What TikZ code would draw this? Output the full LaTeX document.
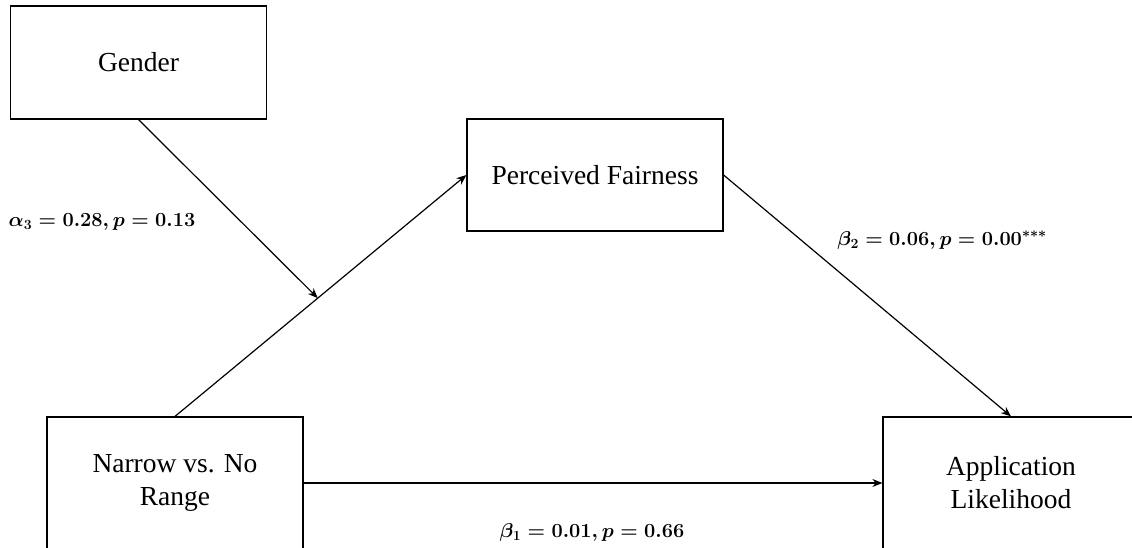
\documentclass[tikz,border=0pt]{standalone}
\usepackage{fix-cm}
\usepackage{fontspec}
\setmainfont{Liberation Serif}
\usetikzlibrary{arrows.meta,calc}
\begin{document}
\begin{tikzpicture}[x=1pt,y=-1pt,
  varbox/.style={draw, line width=1.2pt, minimum width=256pt, align=center,
    font=\fontsize{27.5}{33}\selectfont, inner sep=0pt},
  conn/.style={line width=1.2pt, -{Stealth[length=10pt,width=8pt]}},
  coef/.style={font=\fontsize{20}{24}\selectfont\boldmath, inner sep=0pt}]
\useasboundingbox (0,0) rectangle (1132,548);
\clip (0,0) rectangle (1132,548);
\fill[white] (0,0) rectangle (1132,548);
\node[varbox, minimum height=113pt] (g) at (138.5,62.5) {Gender};
\node[varbox, minimum height=112pt] (pf) at (595,175) {Perceived Fairness};
\node[varbox, minimum height=132pt] (nr) at (175,483) {Narrow vs. No\\Range};
\node[varbox, minimum height=132pt] (al) at (1011,483) {Application\\Likelihood};
\coordinate (ns) at (nr.north);
\coordinate (m) at ($(ns)!0.49!(pf.west)$);
\draw[conn] (ns) -- (pf.west);
\draw[conn] (g.south) -- (m);
\draw[conn] (pf.east) -- (al.north);
\draw[conn] (nr.east) -- (al.west);
\node[coef] (la) at (102,222) {$\alpha_3 = 0.28, p = 0.13$};
\node[coef] (lb2) at (942,240) {$\beta_2 = 0.06, p = 0.00^{***}$};
\node[coef] (lb1) at (592,532) {$\beta_1 = 0.01, p = 0.66$};
\end{tikzpicture}
\end{document}
